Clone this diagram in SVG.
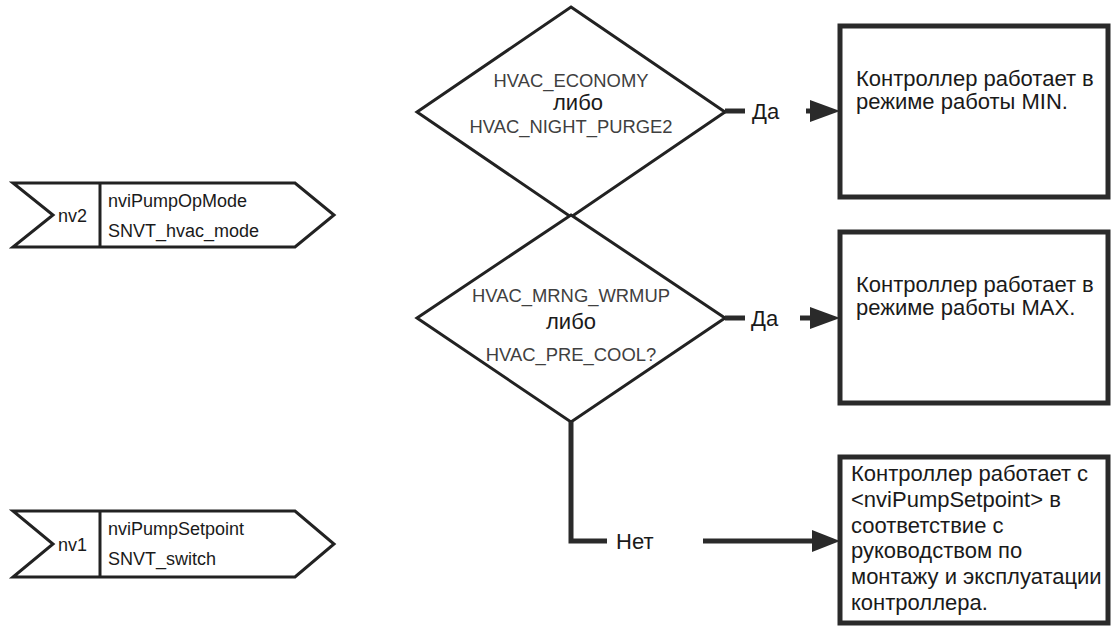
<svg xmlns="http://www.w3.org/2000/svg" width="1112" height="628" viewBox="0 0 1112 628">
<style>
.shape{fill:#fff;stroke:#222;stroke-width:3;stroke-linejoin:miter}
.box{fill:#fff;stroke:#2a2a2a;stroke-width:5}
.conn{fill:none;stroke:#2a2a2a;stroke-width:5}
.head{fill:#2a2a2a;stroke:none}
.t{font-family:"Liberation Sans",Arial,sans-serif;font-size:18px;fill:#1a1a1a}
.g{font-family:"Liberation Sans",Arial,sans-serif;font-size:18.4px;fill:#404040}
.b{font-family:"Liberation Sans",Arial,sans-serif;font-size:22px;fill:#1a1a1a}
.c{text-anchor:middle}
</style>
<rect width="1112" height="628" fill="#fff"/>
<g id="nv2">
<polygon class="shape" points="13,183 295,183 334,215 295,247 13,247 53,215"/>
<line class="shape" x1="100" y1="183" x2="100" y2="247"/>
<text class="t" x="58" y="222">nv2</text>
<text class="t" x="108" y="207">nviPumpOpMode</text>
<text class="t" x="108" y="237">SNVT_hvac_mode</text>
</g>
<g id="nv1">
<polygon class="shape" points="13,511 295,511 334,544 295,577 13,577 53,544"/>
<line class="shape" x1="100" y1="511" x2="100" y2="577"/>
<text class="t" x="58" y="551">nv1</text>
<text class="t" x="108" y="535">nviPumpSetpoint</text>
<text class="t" x="108" y="565">SNVT_switch</text>
</g>
<g id="decision1">
<polygon class="shape" points="571,7 725,112 571,217 417,112"/>
<text class="g c" x="571" y="87">HVAC_ECONOMY</text>
<text class="b c" x="578" y="110">либо</text>
<text class="g c" x="571" y="133">HVAC_NIGHT_PURGE2</text>
</g>
<g id="decision2">
<polygon class="shape" points="571,215 725,318 571,422 417,318"/>
<text class="g c" x="571" y="302">HVAC_MRNG_WRMUP</text>
<text class="b c" x="571" y="329">либо</text>
<text class="g c" x="571" y="361">HVAC_PRE_COOL?</text>
</g>
<g id="box-min">
<rect class="box" x="840" y="26" width="268" height="171"/>
<text class="b" x="856" y="86">Контроллер работает в</text>
<text class="b" x="856" y="109">режиме работы MIN.</text>
</g>
<g id="box-max">
<rect class="box" x="840" y="232" width="268" height="171"/>
<text class="b" x="856" y="292">Контроллер работает в</text>
<text class="b" x="856" y="315">режиме работы MAX.</text>
</g>
<g id="box-setpoint">
<rect class="box" x="840" y="457" width="268" height="166"/>
<text class="b" x="851" y="481">Контроллер работает с</text>
<text class="b" x="851" y="507">&lt;nviPumpSetpoint&gt; в</text>
<text class="b" x="851" y="533">соответствие с</text>
<text class="b" x="851" y="558">руководством по</text>
<text class="b" x="851" y="584">монтажу и эксплуатации</text>
<text class="b" x="851" y="610">контроллера.</text>
</g>
<g id="connectors">
<line class="conn" x1="725" y1="111" x2="745" y2="111"/>
<text class="b" x="752" y="119">Да</text>
<line class="conn" x1="806" y1="111" x2="816" y2="111"/>
<polygon class="head" points="810,100 840,111 810,122"/>
<line class="conn" x1="725" y1="318" x2="745" y2="318"/>
<text class="b" x="751" y="326">Да</text>
<line class="conn" x1="800" y1="318" x2="816" y2="318"/>
<polygon class="head" points="810,307 840,318 810,329"/>
<polyline class="conn" points="571,422 571,541 607,541"/>
<text class="b" x="616" y="549">Нет</text>
<line class="conn" x1="703" y1="541" x2="816" y2="541"/>
<polygon class="head" points="812,530 840,541 812,552"/>
</g>
</svg>
